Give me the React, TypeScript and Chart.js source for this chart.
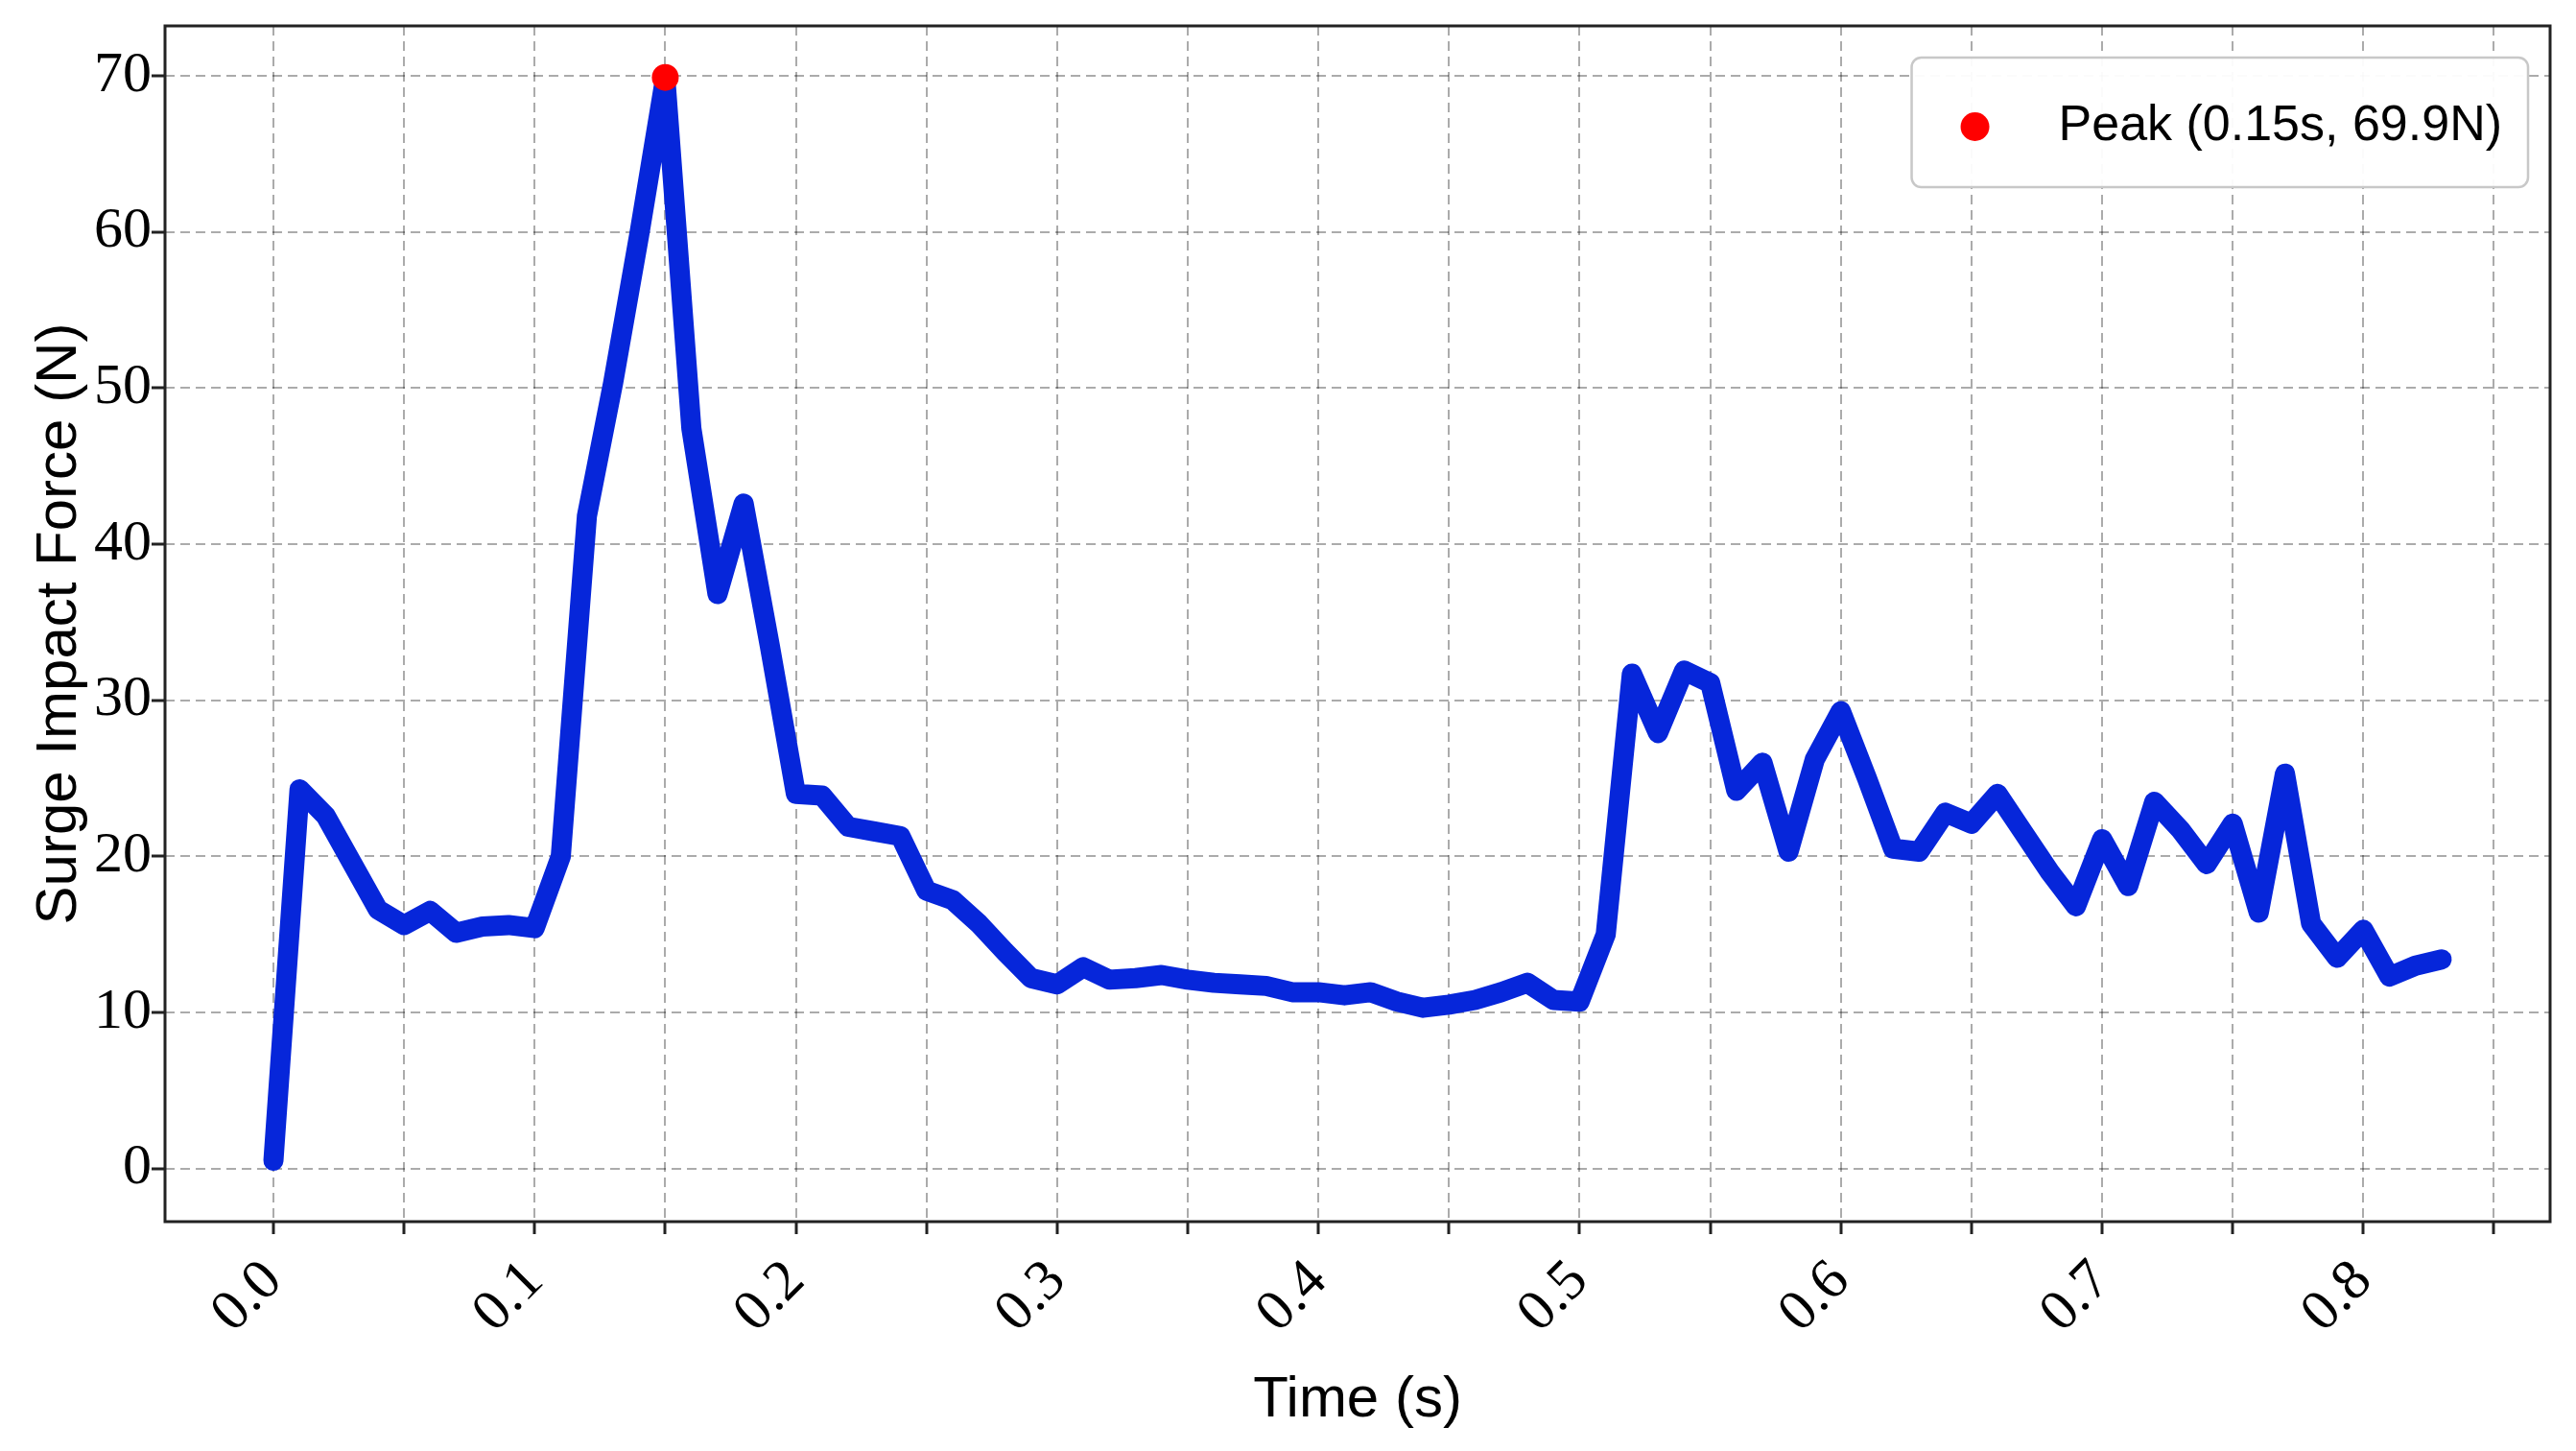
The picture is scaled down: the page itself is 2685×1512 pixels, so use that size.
import React, { useEffect, useRef } from 'react';
import { Chart, registerables } from 'chart.js';

Chart.register(...registerables);

const TIME_S = [
  0.0, 0.01, 0.02, 0.03, 0.04, 0.05, 0.06, 0.07, 0.08, 0.09,
  0.1, 0.11, 0.12, 0.13, 0.14, 0.15, 0.16, 0.17, 0.18, 0.19,
  0.2, 0.21, 0.22, 0.23, 0.24, 0.25, 0.26, 0.27, 0.28, 0.29,
  0.3, 0.31, 0.32, 0.33, 0.34, 0.35, 0.36, 0.37, 0.38, 0.39,
  0.4, 0.41, 0.42, 0.43, 0.44, 0.45, 0.46, 0.47, 0.48, 0.49,
  0.5, 0.51, 0.52, 0.53, 0.54, 0.55, 0.56, 0.57, 0.58, 0.59,
  0.6, 0.61, 0.62, 0.63, 0.64, 0.65, 0.66, 0.67, 0.68, 0.69,
  0.7, 0.71, 0.72, 0.73, 0.74, 0.75, 0.76, 0.77, 0.78, 0.79,
  0.8, 0.81, 0.82, 0.83,
];

const FORCE_N = [
  0.5, 24.3, 22.6, 19.6, 16.6, 15.6, 16.5, 15.1, 15.5, 15.6,
  15.4, 20.0, 41.8, 50.3, 59.8, 69.9, 47.4, 36.8, 42.6, 33.5,
  24.0, 23.9, 21.9, 21.6, 21.3, 17.8, 17.2, 15.7, 13.9, 12.2,
  11.8, 12.9, 12.1, 12.2, 12.4, 12.1, 11.9, 11.8, 11.7, 11.3,
  11.3, 11.1, 11.3, 10.7, 10.3, 10.5, 10.8, 11.3, 11.9, 10.8,
  10.7, 15.0, 31.7, 27.9, 31.9, 31.1, 24.2, 26.0, 20.3, 26.2,
  29.3, 25.0, 20.5, 20.3, 22.8, 22.1, 24.0, 21.5, 19.0, 16.8,
  21.1, 18.1, 23.5, 21.7, 19.5, 22.1, 16.4, 25.3, 15.7, 13.5,
  15.3, 12.3, 13.0, 13.4,
];

const PEAK_TIME = 0.15;
const PEAK_FORCE = 69.9;
const PEAK_LABEL = 'Peak (0.15s, 69.9N)';

const X_TICK_LABELS = ['0.0', '0.1', '0.2', '0.3', '0.4', '0.5', '0.6', '0.7', '0.8'];
const X_TITLE = 'Time (s)';
const Y_TITLE = 'Surge Impact Force (N)';

const LINE_COLOR = '#0626da';
const PEAK_COLOR = '#ff0000';
const GRID_COLOR = 'rgba(0,0,0,0.33)';
const FRAME_COLOR = '#222222';

const W = 2685;
const H = 1512;

const framePlugin = {
  id: 'frameBox',
  afterDatasetsDraw(chart: any) {
    const { ctx, chartArea } = chart;
    ctx.save();
    ctx.strokeStyle = FRAME_COLOR;
    ctx.lineWidth = 3;
    ctx.setLineDash([]);
    ctx.strokeRect(chartArea.left, chartArea.top, chartArea.right - chartArea.left, chartArea.bottom - chartArea.top);
    ctx.restore();
  },
};

const legendPlugin = {
  id: 'peakLegend',
  afterDraw(chart: any) {
    const { ctx, chartArea } = chart;
    const ds = chart.data.datasets[0];
    ctx.save();
    ctx.font = '52px "Liberation Sans", Arial, sans-serif';
    const textW = ctx.measureText(ds.label).width;
    const right = chartArea.right - 23;
    const top = chartArea.top + 33;
    const height = 135;
    const textX = right - 27 - textW;
    const dotX = textX - 87;
    const left = dotX - 66;
    const r = 10;
    ctx.beginPath();
    ctx.moveTo(left + r, top);
    ctx.lineTo(right - r, top);
    ctx.arcTo(right, top, right, top + r, r);
    ctx.lineTo(right, top + height - r);
    ctx.arcTo(right, top + height, right - r, top + height, r);
    ctx.lineTo(left + r, top + height);
    ctx.arcTo(left, top + height, left, top + height - r, r);
    ctx.lineTo(left, top + r);
    ctx.arcTo(left, top, left + r, top, r);
    ctx.closePath();
    ctx.fillStyle = 'rgba(255,255,255,0.95)';
    ctx.fill();
    ctx.strokeStyle = '#c8c8c8';
    ctx.lineWidth = 2.5;
    ctx.stroke();
    const cy = top + 72;
    ctx.beginPath();
    ctx.arc(dotX, cy, 15, 0, Math.PI * 2);
    ctx.fillStyle = ds.pointBackgroundColor;
    ctx.fill();
    ctx.fillStyle = '#000';
    ctx.textAlign = 'left';
    ctx.textBaseline = 'middle';
    ctx.fillText(ds.label, textX, cy);
    ctx.restore();
  },
};

export default function App() {
  const canvasRef = useRef<HTMLCanvasElement | null>(null);

  useEffect(() => {
    const canvas = canvasRef.current;
    if (!canvas) return;
    const chart = new Chart(canvas, {
      type: 'line',
      data: {
        datasets: [
          {
            label: PEAK_LABEL,
            data: [{ x: PEAK_TIME, y: PEAK_FORCE }],
            showLine: false,
            pointRadius: 14,
            pointBackgroundColor: PEAK_COLOR,
            pointBorderWidth: 0,
            pointBorderColor: PEAK_COLOR,
          },
          {
            label: 'Surge Impact Force',
            data: TIME_S.map((t, i) => ({ x: t, y: FORCE_N[i] })),
            borderColor: LINE_COLOR,
            borderWidth: 21,
            borderJoinStyle: 'round',
            borderCapStyle: 'round',
            tension: 0,
            pointRadius: 0,
            fill: false,
          },
        ],
      },
      options: {
        animation: false,
        responsive: false,
        devicePixelRatio: 1,
        layout: { padding: { left: 0, top: 27, right: W - 2658, bottom: 0 } },
        plugins: {
          legend: { display: false },
          tooltip: { enabled: false },
        },
        scales: {
          x: {
            type: 'linear',
            min: -0.0415,
            max: 0.8715,
            afterFit(scale: any) {
              scale.height = H - 1273;
            },
            border: { display: false, dash: [10, 6] },
            grid: {
              color: GRID_COLOR,
              lineWidth: 2,
              tickLength: 13,
              tickColor: FRAME_COLOR,
              tickWidth: 3,
              tickBorderDash: [],
            },
            ticks: {
              stepSize: 0.05,
              includeBounds: false,
              autoSkip: false,
              maxRotation: 45,
              minRotation: 45,
              padding: 14,
              color: '#000',
              font: { family: '"Liberation Serif", "Times New Roman", serif', size: 60 },
              callback(value: any) {
                const v = Number(value);
                const found = X_TICK_LABELS.find((l) => Math.abs(parseFloat(l) - v) < 1e-6);
                return found ?? '';
              },
            },
            title: {
              display: true,
              text: X_TITLE,
              color: '#000',
              font: { family: '"Liberation Sans", Arial, sans-serif', size: 60 },
              padding: { top: 0, bottom: 17 },
            },
          },
          y: {
            type: 'linear',
            min: -3.4,
            max: 73.2,
            afterFit(scale: any) {
              scale.width = 172;
            },
            border: { display: false, dash: [10, 6] },
            grid: {
              color: GRID_COLOR,
              lineWidth: 2,
              tickLength: 14,
              tickColor: FRAME_COLOR,
              tickWidth: 3,
              tickBorderDash: [],
            },
            ticks: {
              stepSize: 10,
              includeBounds: false,
              padding: 0,
              color: '#000',
              font: { family: '"Liberation Serif", "Times New Roman", serif', size: 60, lineHeight: 0.8 },
            },
            title: {
              display: true,
              text: Y_TITLE,
              color: '#000',
              font: { family: '"Liberation Sans", Arial, sans-serif', size: 60 },
              padding: { top: 26, bottom: 0 },
            },
          },
        },
      },
      plugins: [framePlugin, legendPlugin],
    } as any);
    return () => {
      chart.destroy();
    };
  }, []);

  return (
    <div style={{ position: 'fixed', left: 0, top: 0, width: W, height: H, background: '#ffffff' }}>
      <canvas ref={canvasRef} width={W} height={H} style={{ width: W, height: H, display: 'block' }} />
    </div>
  );
}
